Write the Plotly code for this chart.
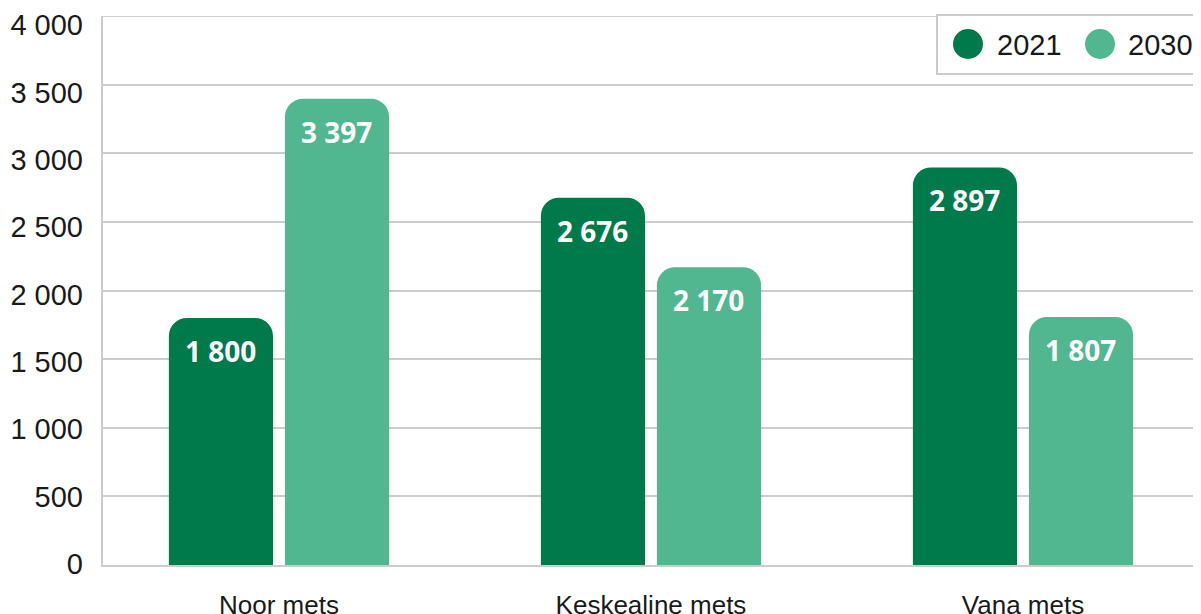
import plotly.graph_objects as go

categories = ["Noor mets", "Keskealine mets", "Vana mets"]
series_names = ["2021", "2030"]
values_2021 = [1800, 2676, 2897]
values_2030 = [3397, 2170, 1807]
y_ticks = [0, 500, 1000, 1500, 2000, 2500, 3000, 3500, 4000]

colors = ["#00794B", "#50B791"]
series_values = [values_2021, values_2030]

def fmt(v):
    return f"{v:,}".replace(",", " ")

fig = go.Figure()
for name, vals, col in zip(series_names, series_values, colors):
    fig.add_trace(go.Bar(
        x=categories, y=vals, name=name, marker_color=col,
        marker_line_width=0, showlegend=False, hoverinfo="skip",
    ))
# invisible helper so the label axis is drawn
fig.add_trace(go.Scatter(x=[categories[0]], y=[None], yaxis="y2",
                         mode="markers", showlegend=False, hoverinfo="skip"))

annotations = []
for vals, shift in zip(series_values, [-58, 58]):
    for c, v in zip(categories, vals):
        annotations.append(dict(
            x=c, y=v, xref="x", yref="y", text=fmt(v), showarrow=False,
            xshift=shift, yshift=-12, yanchor="top", xanchor="center",
            font=dict(family="Noto Sans", size=28, color="white", weight="bold"),
        ))

# manual legend (page offset of 8px from the html body margin)
L, T, PW, PH = 103, 16, 1106, 549
def px(x):
    return (x - L) / PW
def py(y):
    return 1 - (y - T) / PH

shapes = [
    dict(type="line", xref="paper", yref="y", x0=0, x1=1,
         y0=y_ticks[-1], y1=y_ticks[-1],
         line=dict(color="#cccccc", width=2), layer="below"),
    dict(type="rect", xref="paper", yref="paper",
         x0=px(937), x1=px(1230), y0=py(74), y1=py(15),
         line=dict(color="#cccccc", width=2), fillcolor="white", layer="above"),
]
legend_pos = [(968, 995), (1100, 1126)]
for name, col, (cx, tx) in zip(series_names, colors, legend_pos):
    shapes.append(dict(
        type="circle", xref="paper", yref="paper",
        x0=px(cx - 15), x1=px(cx + 15), y0=py(59), y1=py(29),
        line=dict(width=0), fillcolor=col, layer="above",
    ))
    annotations.append(dict(
        x=px(tx), y=py(45), xref="paper", yref="paper", text=name,
        showarrow=False, xanchor="left", yanchor="middle",
        font=dict(family="Liberation Sans", size=29, color="#1a1a1a"),
    ))

fig.update_layout(
    width=1201, height=614,
    margin=dict(l=95, r=0, t=8, b=57),
    paper_bgcolor="white", plot_bgcolor="white",
    template="none",
    barmode="group", bargap=0.376, bargroupgap=0.103, barcornerradius=18,
    font=dict(family="Liberation Sans", size=27, color="#1a1a1a"),
    showlegend=False,
    annotations=annotations,
    shapes=shapes,
    yaxis2=dict(
        overlaying="y", side="left", range=[-7.4, 4066.8],
        tickvals=y_ticks, ticktext=[fmt(t) for t in y_ticks],
        showgrid=False, showline=False, zeroline=False, ticks="",
        ticklabelstandoff=19, automargin=False,
        tickfont=dict(family="Liberation Sans", size=29, color="#1a1a1a"),
    ),
)
fig.update_xaxes(
    range=[-0.473, 2.5], showgrid=False, showline=True, linecolor="#cccccc",
    linewidth=2, ticks="", ticklabelstandoff=16, automargin=False,
    tickfont=dict(family="Liberation Sans", size=26, color="#1a1a1a"),
    zeroline=False,
)
fig.layout.yaxis.update(
    range=[0, 4000], tickvals=y_ticks, showticklabels=False,
    showgrid=True, gridcolor="#cccccc", gridwidth=2,
    showline=True, linecolor="#cccccc", linewidth=2, ticks="",
    automargin=False, zeroline=False,
)

fig.write_html("out.html")
